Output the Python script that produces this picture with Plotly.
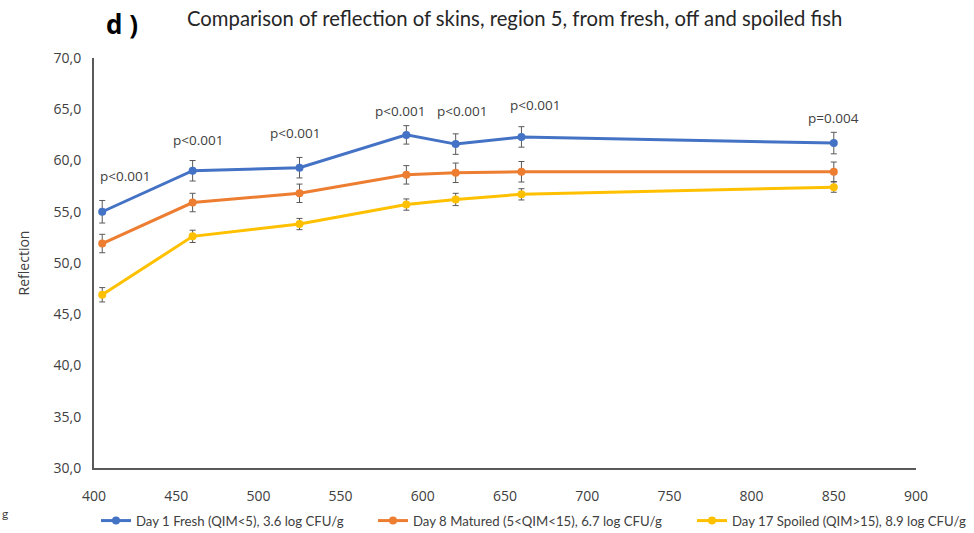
import plotly.graph_objects as go

# Wavelengths (nm) measured for skin region 5
wavelength = [405, 460, 525, 590, 620, 660, 850]

# Mean reflection per storage group
fresh = [55.0, 59.0, 59.3, 62.5, 61.6, 62.3, 61.7]
matured = [51.9, 55.9, 56.8, 58.6, 58.8, 58.9, 58.9]
spoiled = [46.9, 52.6, 53.8, 55.7, 56.2, 56.7, 57.4]

# Error bar half-widths
fresh_err = [1.1, 1.0, 1.0, 0.9, 1.0, 1.0, 1.05]
matured_err = [0.9, 0.9, 0.9, 0.9, 0.95, 1.0, 0.95]
spoiled_err = [0.7, 0.6, 0.55, 0.55, 0.6, 0.55, 0.5]

# Significance labels and where they sit
p_labels = ["p<0.001", "p<0.001", "p<0.001", "p<0.001", "p<0.001", "p<0.001", "p=0.004"]
p_label_x = [419, 463, 522, 586, 624, 668, 850]
p_label_y = [58.5, 62.0, 62.7, 64.8, 64.8, 65.4, 64.1]

series_names = [
    "Day 1 Fresh (QIM<5), 3.6 log CFU/g",
    "Day 8 Matured (5<QIM<15), 6.7 log CFU/g",
    "Day 17 Spoiled (QIM>15), 8.9 log CFU/g",
]
series_values = [fresh, matured, spoiled]
series_errors = [fresh_err, matured_err, spoiled_err]
series_colors = ["#4472C4", "#ED7D31", "#FFC000"]

TEXT = "#404040"
AXIS = "#595959"

# Each series gets its own legend box so the entries can be spaced freely
legend_ids = ["legend", "legend2", "legend3"]
legend_left_px = [96, 373, 692]

fig = go.Figure()
for name, vals, errs, col, lid in zip(series_names, series_values, series_errors,
                                      series_colors, legend_ids):
    fig.add_trace(go.Scatter(
        x=wavelength, y=vals, name=name, mode="lines+markers",
        line=dict(color=col, width=3),
        marker=dict(color=col, size=8),
        error_y=dict(type="data", array=errs, visible=True,
                     color=AXIS, thickness=1, width=3),
        legend=lid,
    ))

for xv, yv, txt in zip(p_label_x, p_label_y, p_labels):
    fig.add_annotation(x=xv, y=yv, text=txt, showarrow=False,
                       font=dict(family="Open Sans", size=13.5, color=TEXT))

fig.add_annotation(xref="paper", yref="paper", x=(185 - 94) / 822, y=(533 - 18 - 65) / 410,
                   xanchor="left", yanchor="middle", showarrow=False,
                   text="Comparison of reflection of skins, region 5, from fresh, off and spoiled fish",
                   font=dict(family="Lato", size=20.3, color="#262626"))
fig.add_annotation(xref="paper", yref="paper", x=(104 - 94) / 822, y=(533 - 24 - 65) / 410,
                   xanchor="left", yanchor="middle", showarrow=False,
                   text="<b>d )</b>", font=dict(family="Open Sans", size=26, color="#000000"))
fig.add_annotation(xref="paper", yref="paper", x=(0 - 94) / 822, y=(533 - 513 - 65) / 410,
                   xanchor="left", yanchor="middle", showarrow=False,
                   text="g", font=dict(family="Lato", size=12, color=TEXT))

legend_style = dict(orientation="h", xanchor="left", y=-53 / 410, yanchor="middle",
                    font=dict(family="Lato", size=13.2, color=TEXT),
                    itemwidth=30, bgcolor="rgba(0,0,0,0)")
legend_layout = {lid: dict(legend_style, x=(px - 94) / 822)
                 for lid, px in zip(legend_ids, legend_left_px)}

fig.update_layout(
    width=974, height=533,
    margin=dict(l=94, r=58, t=58, b=65, autoexpand=False),
    paper_bgcolor="white", plot_bgcolor="white",
    separators=",.",
    showlegend=True,
    xaxis=dict(range=[400, 900], dtick=50, tick0=400, showgrid=False, zeroline=False,
               showline=True, linecolor=AXIS, linewidth=2, ticks="",
               ticklabelstandoff=14,
               tickfont=dict(family="Open Sans", size=14, color=TEXT)),
    yaxis=dict(range=[30, 70], dtick=5, tick0=30, tickformat=".1f", showgrid=False,
               zeroline=False, showline=True, linecolor=AXIS, linewidth=2, ticks="",
               ticklabelstandoff=8,
               tickfont=dict(family="Open Sans", size=14, color=TEXT),
               title=dict(text="Reflection", standoff=21,
                          font=dict(family="Open Sans", size=14, color=TEXT))),
    **legend_layout,
)

fig.write_html("out.html")
